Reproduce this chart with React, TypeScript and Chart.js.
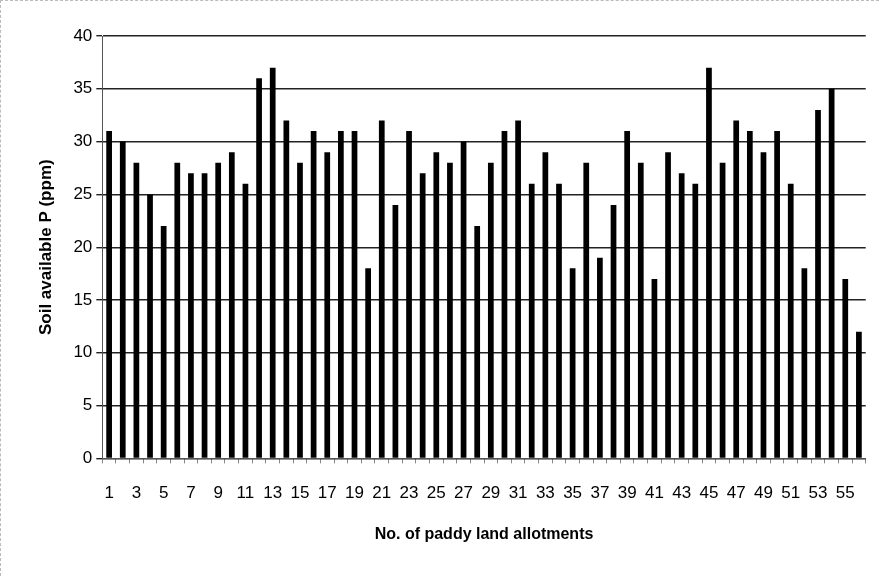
import React, { useEffect, useRef } from "react";
import { Chart, registerables } from "chart.js";

Chart.register(...registerables);

const categories: string[] = Array.from({ length: 56 }, (_, i) => String(i + 1));
const soilP: number[] = [
  31, 30, 28, 25, 22, 28, 27, 27, 28, 29,
  26, 36, 37, 32, 28, 31, 29, 31, 31, 18,
  32, 24, 31, 27, 29, 28, 30, 22, 28, 31,
  32, 26, 29, 26, 18, 28, 19, 24, 31, 28,
  17, 29, 27, 26, 37, 28, 32, 31, 29, 31,
  26, 18, 33, 35, 17, 12,
];
const yTicks: number[] = [0, 5, 10, 15, 20, 25, 30, 35, 40];
const yTitle = "Soil available P (ppm)";
const xTitle = "No. of paddy land allotments";

const FONT = "'Liberation Sans', Arial, sans-serif";

export default function App() {
  const ref = useRef<HTMLCanvasElement | null>(null);
  useEffect(() => {
    document.body.style.margin = "0";
    const ctx = ref.current!.getContext("2d")!;
    const chart = new Chart(ctx, {
      type: "bar",
      data: {
        labels: categories,
        datasets: [
          {
            data: soilP,
            backgroundColor: "#000",
            borderWidth: 0,
            barPercentage: 0.42,
            categoryPercentage: 1,
          },
        ],
      },
      options: {
        animation: false,
        responsive: false,
        maintainAspectRatio: false,
        layout: { padding: { left: 31, right: 11, top: 35, bottom: 28 } },
        plugins: { legend: { display: false }, tooltip: { enabled: false } },
        scales: {
          x: {
            offset: true,
            grid: {
              offset: true,
              drawOnChartArea: false,
              drawTicks: true,
              tickLength: 5,
              color: "#888",
            },
            border: { display: true, color: "#555", width: 1 },
            ticks: {
              autoSkip: false,
              maxRotation: 0,
              minRotation: 0,
              color: "#000",
              padding: 20,
              font: { family: FONT, size: 17 },
              callback: (_v: any, i: number) => (i % 2 === 0 ? categories[i] : ""),
            },
            title: {
              display: true,
              text: xTitle,
              color: "#000",
              font: { family: FONT, size: 16, weight: "bold" },
              padding: { top: 1 },
            },
          },
          y: {
            min: 0,
            max: 40,
            afterBuildTicks: (axis: any) => {
              axis.ticks = yTicks.map((v) => ({ value: v }));
            },
            grid: { color: "#222", lineWidth: 1.4, tickLength: 6 },
            border: { display: true, color: "#555", width: 1 },
            ticks: {
              color: "#000",
              padding: 4,
              font: { family: FONT, size: 17 },
            },
            title: {
              display: true,
              text: yTitle,
              color: "#000",
              font: { family: FONT, size: 17, weight: "bold" },
              padding: { bottom: 13 },
            },
          },
        },
      },
    });
    return () => chart.destroy();
  }, []);
  return (
    <div style={{ position: "absolute", left: 0, top: 0, width: 879, height: 576, boxSizing: "border-box", borderLeft: "1px dashed #bbb", borderTop: "1px dashed #bbb", background: "#fff" }}>
      <canvas ref={ref} width={878} height={575} />
    </div>
  );
}
